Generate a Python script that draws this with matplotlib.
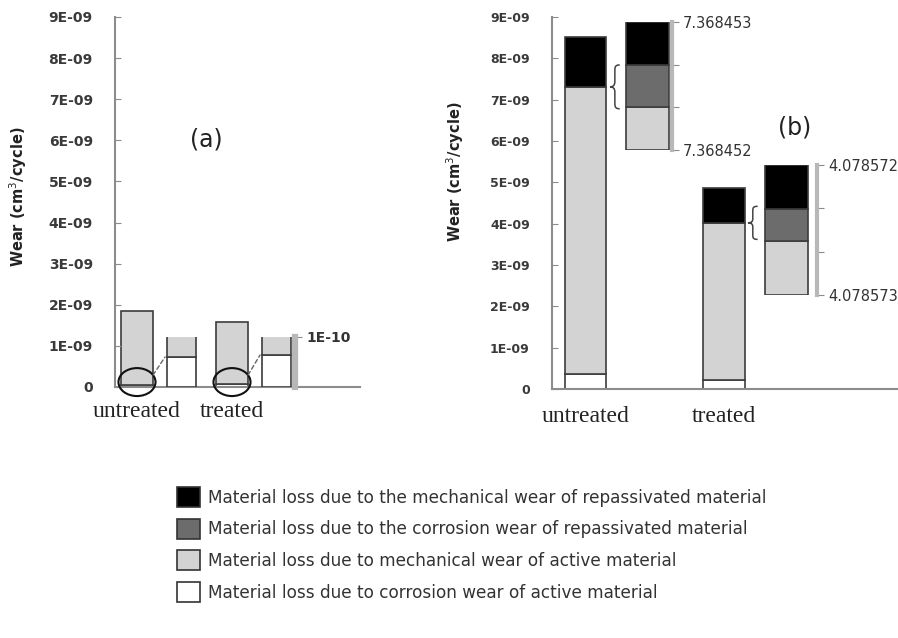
import numpy as np
import matplotlib
matplotlib.use("Agg")
import matplotlib.pyplot as plt
from matplotlib.patches import Ellipse, Patch, PathPatch, ConnectionPatch
from matplotlib.path import Path

W, H = 898, 638

categories = ['untreated', 'treated']
legend_labels = [
    'Material loss due to the mechanical wear of repassivated material',
    'Material loss due to the corrosion wear of repassivated material',
    'Material loss due to mechanical wear of active material',
    'Material loss due to corrosion wear of active material',
]
# black, dark grey, light grey, white  (same order as legend_labels)
colors = ['#000000', '#6c6c6c', '#d3d3d3', '#ffffff']

yticks = np.arange(0, 10) * 1e-9
ytick_labels = ['0'] + ['%dE-09' % i for i in range(1, 10)]

# (a) wear, cm3/cycle
a_corr_active = np.array([0.60e-10, 0.64e-10])
a_mech_active = np.array([1.79e-9, 1.516e-9])
a_zoom_top = 1e-10
a_zoom_label = '1E-10'

# (b) wear, cm3/cycle
b_corr_active = np.array([0.36e-9, 0.22e-9])
b_mech_active = np.array([6.95e-9, 3.80e-9])
b_mech_repass = np.array([1.21e-9, 0.85e-9])
# (b) zoomed columns, heights in steps between the two end labels
b_zoom_mech_active = np.array([1.0, 1.25])
b_zoom_corr_repass = np.array([1.0, 0.74])
b_zoom_mech_repass = np.array([1.0, 1.01])
b_zoom_labels = [('7.368452', '7.368453'), ('4.078573', '4.078572')]

EDGE = '#3c3c3c'
SPINE = '#8c8c8c'

plt.rcParams['font.family'] = 'DejaVu Sans'
fig = plt.figure(figsize=(W / 100, H / 100), dpi=100)


def px_axes(l, t, r, b):
    return fig.add_axes([l / W, 1 - b / H, (r - l) / W, (b - t) / H])


def xlim_for(l, r, c0, step):
    return ((l - c0) / step, (r - c0) / step)


def stack(ax, x, segs, width):
    bottom = np.zeros(len(x))
    for vals, col in segs:
        ax.bar(x, vals, width, bottom=bottom, color=col, edgecolor=EDGE, linewidth=1.2)
        bottom = bottom + vals


def brace(ax, x, y0, y1, w):
    h = y1 - y0
    ym = (y0 + y1) / 2
    xm = x + 0.5 * w
    verts = [(x + w, y1),
             (x + 0.6 * w, y1), (xm, y1 - 0.03 * h), (xm, y1 - 0.12 * h),
             (xm, ym + 0.12 * h),
             (xm, ym + 0.03 * h), (x + 0.3 * w, ym), (x, ym),
             (x + 0.3 * w, ym), (xm, ym - 0.03 * h), (xm, ym - 0.12 * h),
             (xm, y0 + 0.12 * h),
             (xm, y0 + 0.03 * h), (x + 0.6 * w, y0), (x + w, y0)]
    codes = [Path.MOVETO] + [Path.CURVE4] * 3 + [Path.LINETO] + [Path.CURVE4] * 6 + \
            [Path.LINETO] + [Path.CURVE4] * 3
    ax.add_patch(PathPatch(Path(verts, codes), fill=False, edgecolor='#444444',
                           linewidth=1.1, clip_on=False))


def main_style(ax, size):
    for s in ['top', 'right']:
        ax.spines[s].set_visible(False)
    for s in ['left', 'bottom']:
        ax.spines[s].set_color(SPINE)
        ax.spines[s].set_linewidth(1.5)
    ax.set_ylim(0, 9e-9)
    ax.set_yticks(yticks)
    ax.set_yticklabels(ytick_labels, fontsize=size, fontweight='bold', color='#3a3a3a')
    ax.tick_params(axis='y', direction='in', length=4, color=SPINE, pad=16)
    ax.set_xticks(range(len(categories)))
    ax.set_xticklabels(categories, fontfamily='Liberation Serif', fontsize=17, color='#222222')
    ax.set_facecolor('none')


def zoom_style(ax, ticks, labels, size, bold, spine_w):
    for s in ['top', 'left', 'bottom']:
        ax.spines[s].set_visible(False)
    ax.spines['right'].set_color('#b8b8b8')
    ax.spines['right'].set_linewidth(spine_w)
    ax.set_xticks([])
    ax.yaxis.tick_right()
    ax.set_yticks(ticks)
    ax.set_yticklabels(labels, fontsize=size, fontweight='bold' if bold else 'normal',
                       color='#333333')
    ax.tick_params(axis='y', direction='out', length=5, color='#8a8a8a', pad=3)
    ax.set_facecolor('none')


# ---------------- (a) ----------------
a_c0, a_step = 137, 95
a_w = 0.34
a_off, a_zw = 0.47, 0.31
xa = np.arange(len(categories))

ax_a = px_axes(115, 17, 360, 387)
main_style(ax_a, 10)
ax_a.set_xlim(*xlim_for(115, 360, a_c0, a_step))
ax_a.tick_params(axis='x', length=0, pad=10)
stack(ax_a, xa, [(a_corr_active, colors[3]), (a_mech_active, colors[2])], a_w)

ax_az = px_axes(160, 337, 295, 387)
ax_az.set_xlim(*xlim_for(160, 295, a_c0, a_step))
ax_az.set_ylim(0, a_zoom_top)
zoom_style(ax_az, [a_zoom_top], [a_zoom_label], 10, True, 4.5)
stack(ax_az, xa + a_off, [(a_corr_active, colors[3]), (a_mech_active, colors[2])], a_zw)

for i in xa:
    ax_a.add_patch(Ellipse((i, 0.12e-9), 0.39, 0.68e-9, fill=False, edgecolor='#111111',
                           linewidth=1.5, clip_on=False, zorder=5))
    start = (i + 0.195 * np.cos(np.radians(30)), 0.12e-9 + 0.34e-9 * np.sin(np.radians(30)))
    end = (i + a_off - a_zw / 2 - 0.02, a_corr_active[i])
    fig.add_artist(ConnectionPatch(xyA=start, coordsA=ax_a.transData, xyB=end,
                                   coordsB=ax_az.transData, linestyle=(0, (3, 2)),
                                   color='#666666', linewidth=1.0))

fig.text(18 / W, 1 - 197 / H, 'Wear (cm$^3$/cycle)', rotation=90, ha='center', va='center',
         fontsize=10.5, fontweight='bold', color='#222222')
fig.text(206 / W, 1 - 140 / H, '(a)', ha='center', va='center', fontsize=17, color='#222222')

# ---------------- (b) ----------------
b_c0, b_step = 585.5, 138.5
b_w = 0.30
b_off, b_zw = 0.45, 0.31
xb = np.arange(len(categories))

ax_b = px_axes(552, 17, 898, 389)
main_style(ax_b, 9)
ax_b.set_xlim(*xlim_for(552, 898, b_c0, b_step))
ax_b.tick_params(axis='x', length=0, pad=12)
stack(ax_b, xb, [(b_corr_active, colors[3]), (b_mech_active, colors[2]),
                 (b_mech_repass, colors[0])], b_w)

zoom_boxes = [(618, 22, 672, 150), (758, 165, 817, 295)]
for i, (l, t, r, b) in enumerate(zoom_boxes):
    axz = px_axes(l, t, r, b)
    axz.set_xlim(*xlim_for(l, r, b_c0, b_step))
    axz.set_ylim(0, 3)
    lo, hi = b_zoom_labels[i]
    zoom_style(axz, [0, 1, 2, 3], [lo, '', '', hi], 10.5, False, 3)
    stack(axz, [i + b_off], [(b_zoom_mech_active[i:i + 1], colors[2]),
                             (b_zoom_corr_repass[i:i + 1], colors[1]),
                             (b_zoom_mech_repass[i:i + 1], colors[0])], b_zw)

b_top_active = b_corr_active + b_mech_active
brace(ax_b, 0.177, b_top_active[0] - 0.53e-9, b_top_active[0] + 0.53e-9, 0.07)
brace(ax_b, 1.173, b_top_active[1] - 0.40e-9, b_top_active[1] + 0.40e-9, 0.07)

fig.text(455 / W, 1 - 172 / H, 'Wear (cm$^3$/cycle)', rotation=90, ha='center', va='center',
         fontsize=10.5, fontweight='bold', color='#222222')
fig.text(795 / W, 1 - 127 / H, '(b)', ha='center', va='center', fontsize=17, color='#222222')

# ---------------- legend ----------------
handles = [Patch(facecolor=c, edgecolor='#333333', linewidth=1.2) for c in colors]
fig.legend(handles, legend_labels, loc='upper left', bbox_to_anchor=(177 / W, 1 - 487 / H),
           frameon=False, fontsize=12.2, borderpad=0, borderaxespad=0,
           handlelength=1.35, handleheight=1.45, labelspacing=0.68, handletextpad=0.5,
           labelcolor='#333333')

fig.savefig('out.png', dpi=100, facecolor='white')
